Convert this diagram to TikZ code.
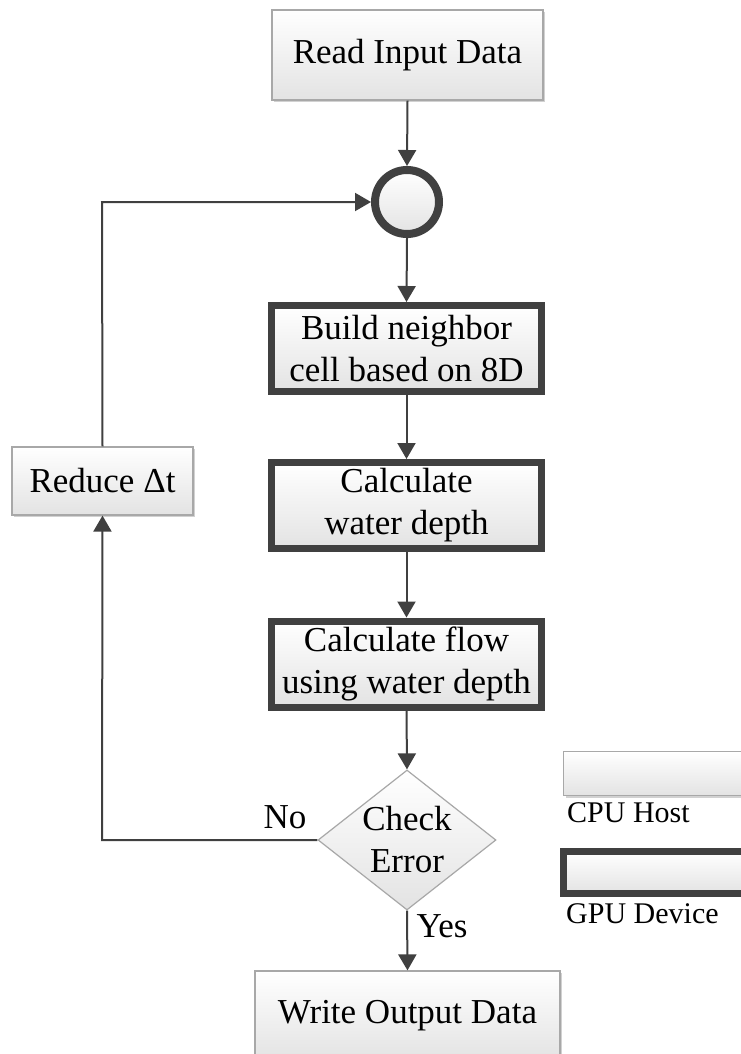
\documentclass[tikz,border=0pt]{standalone}
\usepackage{fontspec}
\setmainfont{Liberation Serif}
\usetikzlibrary{arrows.meta,shapes.geometric,shadows}
\definecolor{edgegray}{HTML}{404040}
\definecolor{thinborder}{HTML}{A8A8A8}
\begin{document}
\begin{tikzpicture}[x=1pt,y=-1pt,
  base/.style={font=\fontsize{35}{42}\selectfont, align=center, inner sep=0pt,
    top color=white, bottom color=black!11, text=black},
  cpubox/.style={base, rectangle, draw=thinborder, line width=1.2pt,
    drop shadow={shadow xshift=2pt, shadow yshift=-2pt, opacity=0.18, fill=black}},
  gpubox/.style={base, rectangle, draw=edgegray, line width=7pt,
    minimum width=270pt, minimum height=86pt,
    drop shadow={shadow xshift=2pt, shadow yshift=-2pt, opacity=0.18, fill=black}},
  conn/.style={draw=edgegray, line width=2pt, -{Triangle[length=16pt,width=18pt]}},
  lbl/.style={font=\fontsize{35}{42}\selectfont, inner sep=0pt},
  legtext/.style={font=\fontsize{30}{36}\selectfont, inner sep=0pt, anchor=base west}
]
\clip (0,0) rectangle (741,1054);
\fill[white] (0,0) rectangle (741,1054);

% nodes
\node[cpubox, minimum width=271pt, minimum height=90pt] (read) at (407.5,55) {Read Input Data};
\node[base, circle, draw=edgegray, line width=8pt, minimum size=64pt] (join) at (407,202) {};
\node[gpubox] (build) at (406.5,348.5) {Build neighbor\\cell based on 8D};
\node[gpubox] (depth) at (406.5,505.5) {Calculate\\water depth};
\node[gpubox] (flow) at (406.5,664) {Calculate flow\\using water depth};
\node[base, diamond, draw=thinborder, line width=1.2pt, minimum width=178pt, minimum height=140pt,
  label={[lbl, align=center]center:Check\\Error}] (check) at (407,840) {};
\node[cpubox, minimum width=305pt, minimum height=90pt] (write) at (407.5,1016) {\raisebox{4pt}{Write Output Data}};
\node[cpubox, minimum width=181pt, minimum height=68pt] (reduce) at (102.5,481) {Reduce Δt};

% legend
\node[cpubox, minimum width=200pt, minimum height=44pt, anchor=north west] (cpuleg) at (563,751) {};
\node[legtext] (cputxt) at (567,822) {CPU Host};
\node[gpubox, minimum width=200pt, minimum height=42pt, anchor=north west] (gpuleg) at (560,848) {};
\node[legtext] (gputxt) at (566,923) {GPU Device};

% connectors
\coordinate (loopbot) at (102,840);
\coordinate (looptop) at (102,202);
\draw[conn] (read.south) -- (join.north);
\draw[conn] (join.south) -- (build.north);
\draw[conn] (build.south) -- (depth.north);
\draw[conn] (depth.south) -- (flow.north);
\draw[conn] (flow.south) -- (check.north);
\draw[conn] (check.south) -- (write.north);
\draw[conn] (check.west) -- (loopbot) -- (reduce.south);
\draw[conn] (reduce.north) -- (looptop) -- (join.west);

% edge labels
\node[lbl] (nolbl) at (285,817) {No};
\node[lbl] (yeslbl) at (442,926) {Yes};
\end{tikzpicture}
\end{document}
